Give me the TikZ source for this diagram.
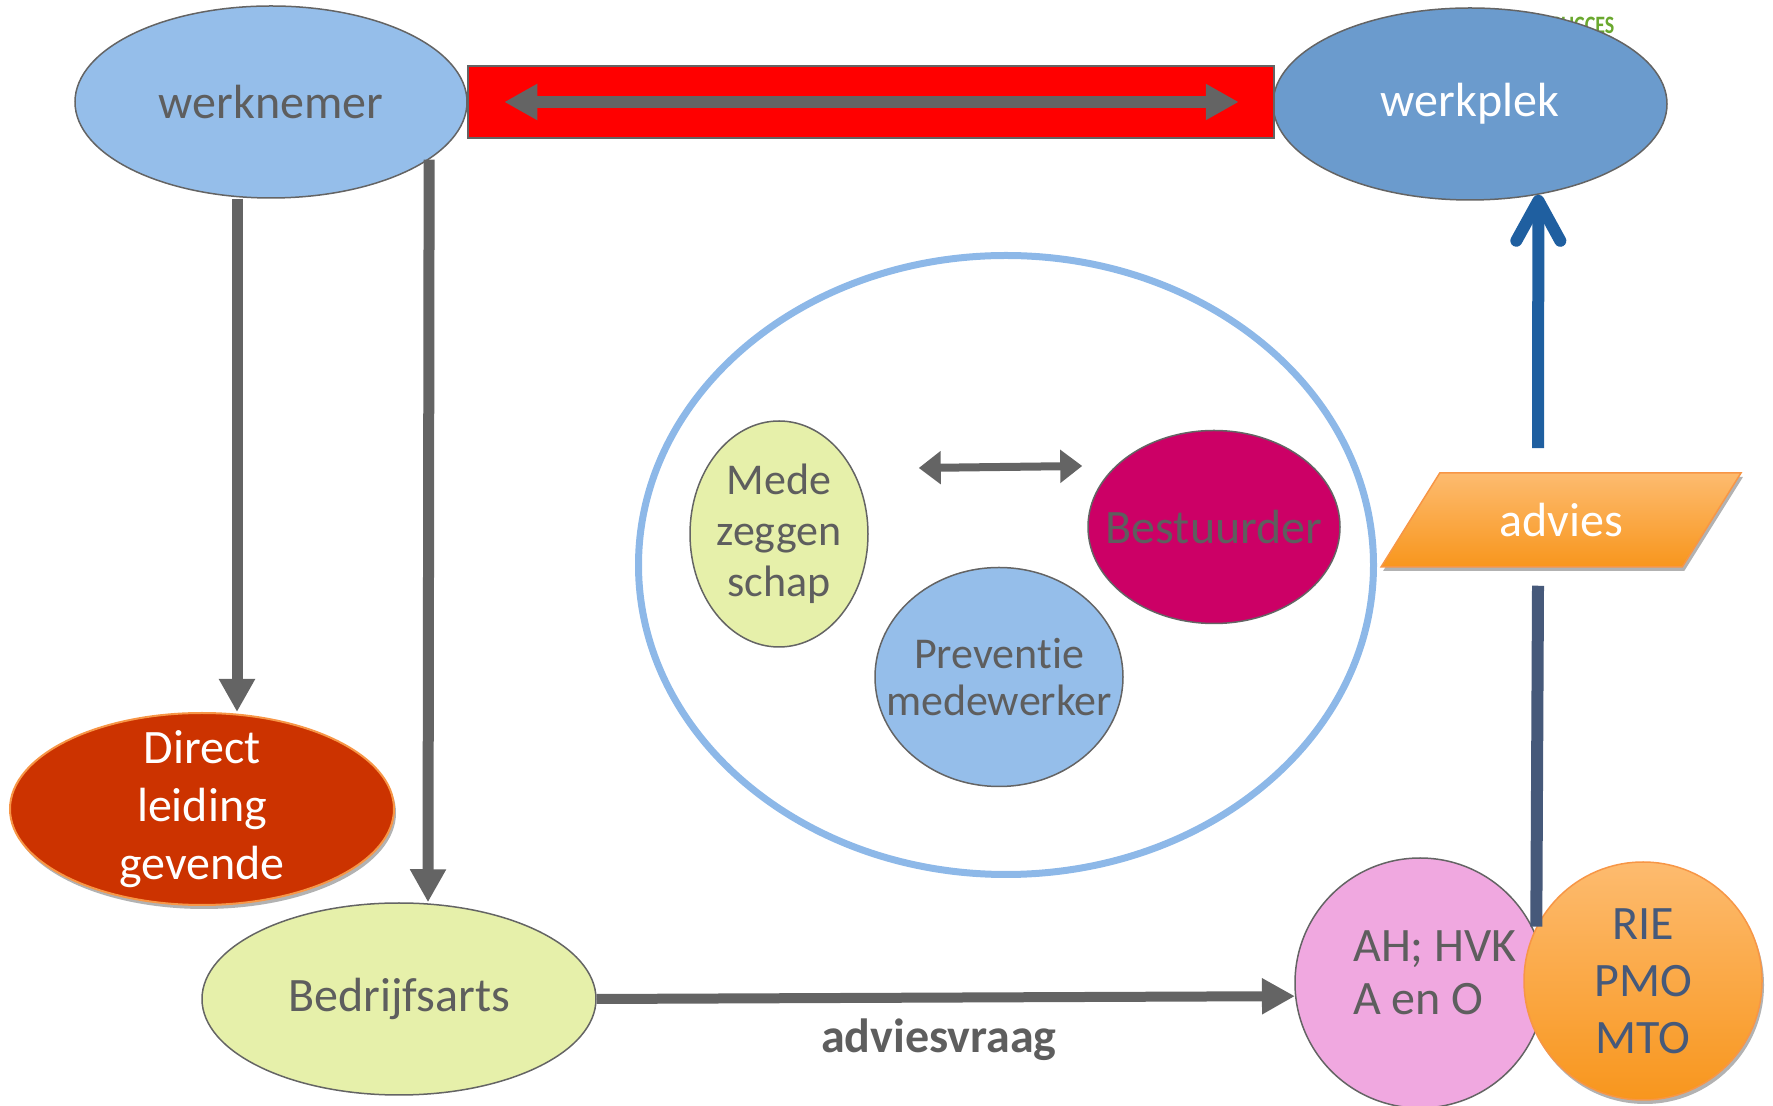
\documentclass[tikz,border=0pt]{standalone}
\usepackage{fontspec}
\setmainfont{Carlito}[Ligatures = NoCommon]
\definecolor{lichtblauw}{HTML}{95BEEA}
\definecolor{middenblauw}{HTML}{6B9BCD}
\definecolor{donkerblauw}{HTML}{1F5FA0}
\definecolor{leisteen}{HTML}{46597A}
\definecolor{grijs}{HTML}{646464}
\definecolor{tekstgrijs}{HTML}{5E5E5E}
\definecolor{limoen}{HTML}{E6F0AA}
\definecolor{steenrood}{HTML}{CC3300}
\definecolor{fuchsia}{HTML}{CC0066}
\definecolor{roze}{HTML}{F0A8E0}
\definecolor{oranje}{HTML}{F79646}
\definecolor{lichtoranje}{HTML}{FDBB6F}
\definecolor{donkeroranje}{HTML}{F8961D}
\definecolor{kringblauw}{HTML}{8DB8E8}
\definecolor{groen}{HTML}{6AA82E}
\usepackage{tikz}
\usetikzlibrary{arrows.meta, shapes.geometric, shadows, positioning, calc}

\begin{document}
\begin{tikzpicture}[x=1pt, y=1pt,
	bol/.style = {ellipse, draw = grijs, line width = 1.5pt, text = tekstgrijs, align = center, inner sep = -40pt},
	groot/.style = {font = \fontsize{48}{58}\selectfont},
	middel/.style = {font = \fontsize{44}{51}\selectfont},
	schaduw/.style = {drop shadow = {shadow xshift = 2pt, shadow yshift = -4pt, opacity = 0.3, fill = black}},
	kop/.tip = {Triangle[length = 33pt, width = 34pt]},
	kleinkop/.tip = {Triangle[length = 22pt, width = 32pt]},
	pijl/.style = {draw = grijs, line width = 11pt, -kop}]
\useasboundingbox (0,0) rectangle (1773,1106);

% boven
\node[text = groen, font = \bfseries\fontsize{25}{25}\selectfont, xscale = 0.8, inner sep = 0pt] (succes) at (1583,1081) {SUCCES};
\node[bol, fill = lichtblauw, minimum width = 392pt, minimum height = 192pt, groot] (werknemer) at (271,1004) {werknemer};
\node[bol, fill = middenblauw, text = white, minimum width = 394pt, minimum height = 192pt, groot] (werkplek) at (1470,1002) {werkplek};
\node[draw = grijs, line width = 1.5pt, fill = red, minimum width = 806pt, minimum height = 72pt, inner sep = 0pt] (balk) at (871,1004) {};
\draw[pijl, kop-kop, line width = 12pt] ([xshift = 37pt]balk.west) -- ([xshift = -36pt]balk.east);

% midden
\node[ellipse, draw = kringblauw, line width = 7pt, minimum width = 735pt, minimum height = 619pt] (kring) at (1006,541) {};
\node[bol, fill = limoen, minimum width = 178pt, minimum height = 226pt, middel] (mede) at (779,572) {Mede\\zeggen\\schap};
\node[bol, fill = fuchsia, minimum width = 252pt, minimum height = 193pt, groot] (bestuurder) at (1214,579) {Bestuurder};
\node[bol, fill = lichtblauw, minimum width = 248pt, minimum height = 219pt, font = \fontsize{44}{47}\selectfont] (preventie) at (999,429) {Preventie\\medewerker};
\draw[grijs, line width = 8pt, kleinkop-kleinkop] ([xshift = 50pt, yshift = 66pt]mede.east) -- ([xshift = -5pt, yshift = 61pt]bestuurder.west);

% links
\node[bol, draw = oranje, line width = 2pt, fill = steenrood, text = white, minimum width = 384pt, minimum height = 192pt, groot, schaduw] (leiding) at (202,297) {Direct\\leiding\\gevende};
\node[bol, fill = limoen, minimum width = 394pt, minimum height = 192pt, groot] (arts) at (399,107) {Bedrijfsarts};
\draw[pijl] ([xshift = -34pt]werknemer.south) -- ([xshift = 35pt]leiding.north);
\draw[pijl] (werknemer.-20) -- ([xshift = 29pt]arts.north);

% rechts
\node[circle, draw = grijs, line width = 1.5pt, fill = roze, minimum size = 250pt,
	label = {[name = ahtekst, xshift = 15pt, yshift = 10pt, align = left, text = tekstgrijs, font = \fontsize{48}{53}\selectfont]center:AH; HVK\\A en O}] (ah) at (1420,123) {};
\node[circle, draw = oranje, line width = 1.5pt, top color = lichtoranje, bottom color = donkeroranje, text = leisteen, minimum size = 238pt, align = center, font = \fontsize{48}{57}\selectfont, schaduw] (rie) at (1643,125) {RIE\\PMO\\MTO};
\node[trapezium, trapezium left angle = 52, trapezium right angle = 128, trapezium stretches = true, minimum width = 360pt, minimum height = 94pt, draw = oranje, line width = 1.5pt, top color = lichtoranje, bottom color = donkeroranje, text = white, groot, schaduw] (advies) at (1561,586) {advies};
\draw[donkerblauw, line width = 12pt, -{Straight Barb[length = 40pt, width = 44pt, round]}] ([xshift = -23pt, yshift = 24pt]advies.north) -- (werkplek.-53);
\draw[leisteen, line width = 12pt] ([xshift = -23pt, yshift = -18pt]advies.south) -- (rie.153);
\draw[pijl, line width = 10pt] (arts.east) -- (ah.186) node[pos = 0.49, below = 13pt, text = tekstgrijs, font = \bfseries\fontsize{48}{58}\selectfont] (vraag) {adviesvraag};
\end{tikzpicture}
\end{document}
